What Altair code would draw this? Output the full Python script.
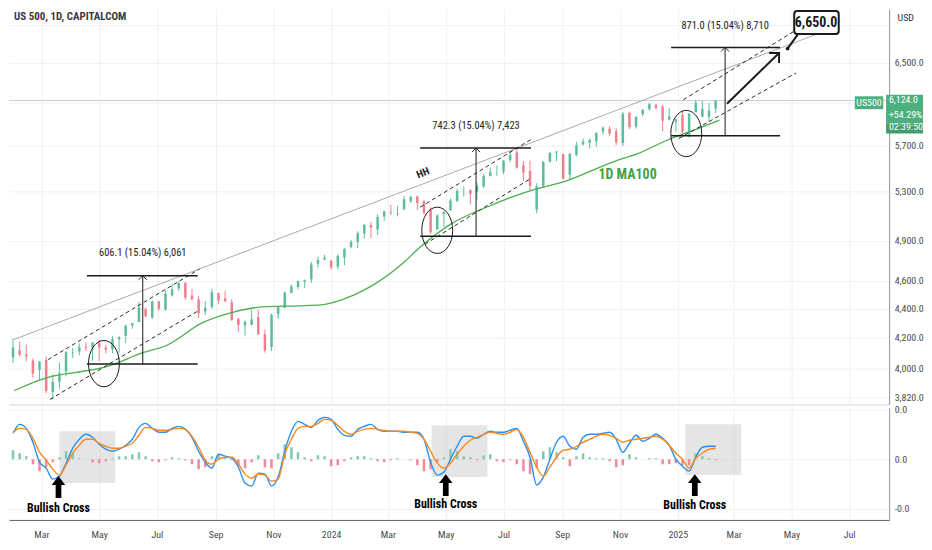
import altair as alt
import pandas as pd

FONT = "Liberation Sans Narrow, Roboto Condensed, DejaVu Sans Condensed, Liberation Sans, sans-serif"

# ---------------- weekly candles (US 500) ----------------
weeks = pd.date_range("2023-01-30", periods=107, freq="7D").strftime("%Y-%m-%d").tolist()

open_ = [4071, 4119, 4091, 4052, 3992, 4055, 3855, 3917, 3982, 4102, 4110, 4140, 4134, 4166, 4136, 4127,
         4191, 4215, 4283, 4308, 4396, 4337, 4450, 4394, 4492, 4543, 4585, 4492, 4464, 4380, 4411, 4510,
         4473, 4445, 4328, 4284, 4289, 4342, 4225, 4140, 4364, 4407, 4511, 4554, 4594, 4610, 4725, 4758,
         4745, 4703, 4772, 4853, 4892, 4957, 5026, 4989, 5093, 5131, 5111, 5154, 5219, 5257, 5218, 5149,
         4990, 5114, 5143, 5221, 5305, 5315, 5297, 5341, 5431, 5460, 5471, 5572, 5638, 5525, 5476, 5151,
         5349, 5557, 5637, 5623, 5442, 5615, 5711, 5727, 5737, 5829, 5857, 5833, 5724, 6003, 5875, 5992,
         6040, 6083, 6063, 5941, 5920, 5982, 5788, 6014, 5969, 5969, 6046]
high = [4195, 4176, 4156, 4066, 4049, 4078, 3964, 4039, 4110, 4133, 4164, 4170, 4170, 4186, 4154, 4212,
        4212, 4290, 4299, 4448, 4409, 4458, 4456, 4527, 4578, 4594, 4588, 4540, 4490, 4452, 4541, 4514,
        4527, 4467, 4338, 4317, 4394, 4393, 4256, 4366, 4416, 4520, 4569, 4600, 4609, 4738, 4778, 4793,
        4755, 4798, 4842, 4907, 4975, 5030, 5048, 5111, 5140, 5189, 5180, 5261, 5264, 5264, 5230, 5168,
        5114, 5139, 5240, 5325, 5342, 5315, 5375, 5447, 5505, 5524, 5570, 5655, 5669, 5563, 5566, 5370,
        5563, 5644, 5651, 5626, 5636, 5734, 5767, 5765, 5822, 5879, 5878, 5863, 6012, 6018, 5972, 6044,
        6099, 6090, 6085, 6049, 5951, 6022, 6002, 6128, 6120, 6101, 6128]
low = [4037, 4079, 4047, 3943, 3928, 3847, 3808, 3874, 3951, 4069, 4086, 4114, 4049, 4048, 4099, 4099,
       4103, 4166, 4261, 4308, 4341, 4328, 4385, 4385, 4486, 4527, 4463, 4461, 4335, 4356, 4400, 4431,
       4448, 4317, 4238, 4216, 4284, 4223, 4104, 4113, 4329, 4404, 4511, 4537, 4546, 4583, 4698, 4751,
       4682, 4682, 4714, 4842, 4845, 4918, 4920, 4946, 5057, 5104, 5094, 5141, 5203, 5146, 5108, 4953,
       4990, 5011, 5142, 5211, 5257, 5191, 5234, 5331, 5428, 5433, 5448, 5552, 5497, 5391, 5306, 5120,
       5334, 5555, 5560, 5402, 5406, 5604, 5703, 5674, 5689, 5801, 5787, 5703, 5697, 5853, 5856, 5973,
       6027, 6040, 5832, 5933, 5829, 5773, 5773, 6008, 5962, 5923, 6003]
close = [4136, 4090, 4079, 3970, 4045, 3861, 3917, 3971, 4109, 4105, 4138, 4133, 4169, 4136, 4124, 4192,
         4205, 4282, 4299, 4410, 4348, 4450, 4399, 4505, 4536, 4582, 4478, 4464, 4370, 4406, 4516, 4457,
         4450, 4320, 4288, 4309, 4327, 4224, 4117, 4358, 4415, 4514, 4559, 4595, 4604, 4719, 4754, 4770,
         4697, 4784, 4840, 4891, 4959, 5027, 5006, 5089, 5137, 5124, 5117, 5234, 5254, 5204, 5123, 4967,
         5100, 5128, 5223, 5303, 5305, 5278, 5347, 5432, 5465, 5460, 5567, 5615, 5505, 5459, 5347, 5344,
         5554, 5634, 5648, 5408, 5626, 5703, 5738, 5751, 5815, 5865, 5808, 5729, 5996, 5871, 5969, 6032,
         6090, 6051, 5931, 5971, 5942, 5827, 5997, 6101, 6041, 6026, 6124]

# 1D MA100 (read at sparse dates)
ma_dates = ["2023-01-31", "2023-03-08", "2023-04-05", "2023-05-06", "2023-06-17", "2023-07-11",
            "2023-08-18", "2023-09-21", "2023-10-20", "2023-11-28", "2023-12-21", "2024-01-12",
            "2024-02-11", "2024-03-17", "2024-04-04", "2024-05-08", "2024-06-13", "2024-07-24",
            "2024-09-07", "2024-10-29", "2024-11-19", "2024-12-20", "2025-01-23", "2025-02-14"]
ma_values = [3862, 3945, 3975, 4008, 4104, 4150, 4303, 4378, 4412, 4420, 4426, 4462,
             4555, 4731, 4852, 5040, 5169, 5293, 5395, 5569, 5626, 5747, 5859, 5935]

# MACD panel (weekly readings, panel units)
macd_line = [26, 35, 31, 17, -3, -9, -20, -17, -4, 11, 20, 25, 22, 15, 10, 8, 10, 14, 20, 32,
             36, 31, 27, 27, 31, 33, 30, 22, 8, -3, -9, 5, 3, 1, -8, -24, -27, -14, -15, -27,
             -18, 8, 28, 38, 35, 32, 39, 42, 40, 30, 24, 23, 30, 33, 35, 30, 28, 28, 28, 27,
             27, 27, 20, -3, -16, -13, 0, 13, 23, 23, 21, 25, 28, 27, 27, 29, 31, 18, 2, -26,
             -18, 0, 17, 23, 13, 10, 22, 25, 25, 26, 27, 20, 7, 16, 24, 18, 21, 25, 21, 14,
             0, -7, -12, 2, 12, 13, 13]
signal_line = [27, 31, 30, 21, 7, -1, -10, -16, -6, 6, 14, 20, 20, 16, 13, 11, 11, 13, 16, 24,
               32, 31, 29, 29, 30, 31, 30, 23, 12, -1, -5, 0, 2, 2, -5, -15, -19, -15, -16, -22,
               -20, 5, 20, 31, 33, 33, 36, 40, 39, 34, 28, 25, 28, 30, 31, 30, 29, 28, 28, 28,
               27, 26, 20, 8, -4, -9, -4, 5, 13, 19, 22, 25, 27, 26, 25, 27, 30, 22, 7, -8,
               -17, -8, 2, 9, 10, 13, 17, 20, 23, 25, 24, 21, 17, 19, 20, 21, 22, 23, 20, 14,
               6, 0, -9, 1, 6, 10, 11]
histogram = [9, 6, 3, -5, -12, -8, -3, 2, 8, 6, 1, 0, -3, -4, -2, 1, 3, 3, 5, 7,
             3, -2, -3, -1, 2, 1, -1, -5, -10, -8, 3, 5, 1, -1, -6, -9, -3, 4, -8, -9,
             6, 15, 12, 7, 2, -2, 4, 3, -7, -6, -2, 2, 3, 3, 1, -2, -3, -1, 1, 0,
             -1, -6, -12, -10, -3, 2, 10, 8, 3, 2, -1, 4, 5, -2, -3, -1, -5, -12, -15, -9,
             8, 12, 7, 2, -7, 3, 6, 2, 1, 1, -2, -8, -6, 5, 2, 0, 1, 1, -5, -5,
             -4, -6, -6, 6, 3, 1, -1]

# axis ticks
month_ticks = [(2023, 3), (2023, 5), (2023, 7), (2023, 9), (2023, 11), (2024, 1), (2024, 3), (2024, 5),
               (2024, 7), (2024, 9), (2024, 11), (2025, 1), (2025, 3), (2025, 5), (2025, 7)]
price_ticks = [3820, 4000, 4200, 4400, 4600, 4900, 5300, 5700, 6100, 6500, 6900]
macd_ticks = [-50, 0, 50]

# drawings on the price pane
trend_dates = ["2023-01-31", "2025-05-28"]
trend_prices = [4190, 6805]
chan_id = ["a", "a", "b", "b", "c", "c", "d", "d", "e", "e", "f", "f"]
chan_dates = ["2023-03-08", "2023-08-15", "2023-03-10", "2023-08-15",
              "2024-04-04", "2024-07-30", "2024-04-09", "2024-07-30",
              "2025-01-07", "2025-05-04", "2025-01-02", "2025-05-06"]
chan_prices = [4058, 4686, 3809, 4391, 5169, 5756, 4874, 5412, 6131, 6837, 5765, 6398]
meas_x1 = ["2023-04-18", "2024-04-04", "2024-12-25"]
meas_x2 = ["2023-08-13", "2024-07-30", "2025-04-19"]
meas_mid = ["2023-06-16", "2024-06-02", "2025-02-20"]
meas_bottom = [4030, 4935.5, 5791]
meas_top = [4636, 5678, 6662]
meas_label = ["606.1 (15.04%) 6,061", "742.3 (15.04%) 7,423", "871.0 (15.04%) 8,710"]
meas_label_price = [4806, 5884, 6891]
circle_dates = ["2023-05-06", "2024-04-22", "2025-01-10"]
circle_prices = [4032, 4983, 5811]
arrow_dates = ["2025-02-22", "2025-04-18"]
arrow_prices = [6092, 6604]
target_text = "6,650.0"
target_price = 6650
target_date = "2025-04-27"
box_dates = ["2025-05-04", "2025-06-20"]
box_prices = [6805, 7058]
box_text_date = "2025-05-27"
box_text_price = 6924
pointer_dates = ["2025-05-08", "2025-04-27"]
pointer_prices = [6805, 6650]
last_price = 6124

# MACD pane drawings
zone_x1 = ["2023-03-20", "2024-04-16", "2025-01-09"]
zone_x2 = ["2023-05-18", "2024-06-14", "2025-03-09"]
zone_top = [28, 34, 35]
zone_bottom = [-24, -18, -16]
cross_dates = ["2023-03-19", "2024-05-01", "2025-01-19"]
cross_arrow_y = [-28, -26, -26]
cross_text_y = [-49, -45, -46]

# ---------------- scales / axes ----------------
GRID = "#eef0f4"
LABEL = "#4a4a4a"
xscale = alt.Scale(type="utc", domain=[alt.DateTime(year=2023, month=1, date=31, utc=True),
                                       alt.DateTime(year=2025, month=8, date=7, utc=True)])
tick_dt = [alt.DateTime(year=y, month=m, date=1, utc=True) for y, m in month_ticks]

price_xaxis = alt.Axis(values=tick_dt, labels=False, ticks=False, grid=True, gridColor=GRID,
                       domainColor="#d1d4dc", title=None)
pyscale = alt.Scale(type="log", domain=[3779, 7080], nice=False)
price_yaxis = alt.Axis(orient="right", values=price_ticks,
                       labelExpr="(datum.value == 6100 || datum.value == 6900) ? '' : format(datum.value, ',.1f')",
                       grid=True, gridColor=GRID, ticks=False, domainColor="#8f929b",
                       labelColor=LABEL, labelFontSize=10, labelPadding=5, labelOverlap=False,
                       title="USD", titleAngle=0, titleX=8, titleY=8, titleAlign="left",
                       titleBaseline="middle", titleFontWeight="normal", titleFontSize=10,
                       titleColor="#333333")


def PX(f):
    return alt.X(f, type="temporal", scale=xscale, axis=price_xaxis)


def PY(f):
    return alt.Y(f, type="quantitative", scale=pyscale, axis=price_yaxis)


macd_xaxis = alt.Axis(values=tick_dt, ticks=False, grid=True, gridColor=GRID, domainColor="#5d606b",
                      labelExpr="utcFormat(datum.value, '%m') == '01' ? utcFormat(datum.value, '%Y') : utcFormat(datum.value, '%b')",
                      labelColor=LABEL, labelFontSize=10, labelPadding=10, title=None)
myscale = alt.Scale(domain=[-61, 52], nice=False, zero=False)
macd_yaxis = alt.Axis(orient="right", values=macd_ticks,
                      labelExpr="datum.value < 0 ? '-0.0' : '0.0'", grid=True, gridColor=GRID,
                      ticks=False, domainColor="#8f929b", labelColor=LABEL, labelFontSize=10,
                      labelPadding=5, title=None)


def MX(f):
    return alt.X(f, type="temporal", scale=xscale, axis=macd_xaxis)


def MY(f):
    return alt.Y(f, type="quantitative", scale=myscale, axis=macd_yaxis)


# ---------------- data frames ----------------
candles = pd.DataFrame({"date": weeks, "open": open_, "high": high, "low": low, "close": close})
candles["dir"] = ["up" if c >= o else "down" for o, c in zip(open_, close)]
cscale = alt.Scale(domain=["up", "down"], range=["#5dbb9f", "#ee7f8c"])

ma_df = pd.DataFrame({"date": ma_dates, "price": ma_values})
trend_df = pd.DataFrame({"date": trend_dates, "price": trend_prices})
chan_df = pd.DataFrame({"id": chan_id, "date": chan_dates, "price": chan_prices})
meas_df = pd.DataFrame({"x1": meas_x1, "x2": meas_x2, "mid": meas_mid, "bottom": meas_bottom,
                        "top": meas_top, "label": meas_label, "lp": meas_label_price})
circ_df = pd.DataFrame({"date": circle_dates, "price": circle_prices})
arrow_df = pd.DataFrame({"date": arrow_dates, "price": arrow_prices})
head_df = pd.DataFrame({"date": [arrow_dates[-1]], "price": [arrow_prices[-1]]})
box_df = pd.DataFrame({"x1": [box_dates[0]], "x2": [box_dates[1]], "p1": [box_prices[0]], "p2": [box_prices[1]]})
boxtext_df = pd.DataFrame({"date": [box_text_date], "price": [box_text_price], "t": [target_text]})
pointer_df = pd.DataFrame({"date": pointer_dates, "price": pointer_prices})
dot_df = pd.DataFrame({"date": [target_date], "price": [target_price]})
lastp_df = pd.DataFrame({"price": [last_price]})
title_df = pd.DataFrame({"date": ["2023-01-31"], "price": [6990], "t": ["US 500, 1D, CAPITALCOM"]})
hh_df = pd.DataFrame({"date": ["2024-04-07"], "price": [5455], "t": ["HH"]})
ma_lbl_df = pd.DataFrame({"date": ["2024-11-09"], "price": [5438], "t": ["1D MA100"]})
sym_df = pd.DataFrame({"x1": ["2025-07-07"], "x2": ["2025-08-06"], "p1": [6040], "p2": [6165],
                       "tx": ["2025-07-22"], "tp": [6100], "t": ["US500"]})
pbox_df = pd.DataFrame({"x1": ["2025-08-09", "2025-08-09"], "x2": ["2025-09-17", "2025-09-17"],
                        "p1": [5905, 5811], "p2": [6179, 5905], "c": ["a", "b"]})
ptext_df = pd.DataFrame({"date": ["2025-08-12"] * 3, "price": [6124, 5987, 5874],
                         "t": ["6,124.0", "+54.29%", "02:39:50"]})

CHEV = "M-1,1L0,0L1,1"
ELLIPSE = ("M0,-1.5C0.552,-1.5,1,-0.828,1,0C1,0.828,0.552,1.5,0,1.5"
           "C-0.552,1.5,-1,0.828,-1,0C-1,-0.828,-0.552,-1.5,0,-1.5Z")
UPARROW = "M0,-1L0.62,-0.2L0.26,-0.2L0.26,1L-0.26,1L-0.26,-0.2L-0.62,-0.2Z"
INK = "#1a1a1a"

# ---------------- price pane ----------------
lastline = alt.Chart(lastp_df).mark_rule(color="#c9d0da", strokeWidth=1).encode(y=PY("price"))
wicks = alt.Chart(candles).mark_rule(strokeWidth=1, clip=True).encode(
    x=PX("date"), y=PY("low"), y2="high:Q", color=alt.Color("dir:N", scale=cscale, legend=None))
bodies = alt.Chart(candles).mark_bar(size=2.5, clip=True).encode(
    x=PX("date"), y=PY("open"), y2="close:Q", color=alt.Color("dir:N", scale=cscale, legend=None))
ma = alt.Chart(ma_df).mark_line(color="#4caf50", strokeWidth=1.3, interpolate="monotone", clip=True).encode(
    x=PX("date"), y=PY("price"))
trend = alt.Chart(trend_df).mark_line(color="#a0a0a0", strokeWidth=0.9).encode(x=PX("date"), y=PY("price"))
chans = alt.Chart(chan_df).mark_line(color="#2a2a2a", strokeWidth=1, strokeDash=[4, 3]).encode(
    x=PX("date"), y=PY("price"), detail="id:N")
m_top = alt.Chart(meas_df).mark_rule(color=INK, strokeWidth=1.5).encode(x=PX("x1"), x2="x2:T", y=PY("top"))
m_bot = alt.Chart(meas_df).mark_rule(color=INK, strokeWidth=1.5).encode(x=PX("x1"), x2="x2:T", y=PY("bottom"))
m_vert = alt.Chart(meas_df).mark_rule(color=INK, strokeWidth=1).encode(x=PX("mid"), y=PY("bottom"), y2="top:Q")
m_head = alt.Chart(meas_df).mark_point(shape=CHEV, filled=False, color=INK, strokeWidth=1, size=64, opacity=1).encode(
    x=PX("mid"), y=PY("top"))
m_text = alt.Chart(meas_df).mark_text(font=FONT, fontSize=10.5, color="#222222").encode(
    x=PX("mid"), y=PY("lp"), text="label:N")
circles = alt.Chart(circ_df).mark_point(shape=ELLIPSE, filled=False, color=INK, strokeWidth=1, size=961, opacity=1).encode(
    x=PX("date"), y=PY("price"))
big_arrow = alt.Chart(arrow_df).mark_line(color=INK, strokeWidth=2).encode(x=PX("date"), y=PY("price"))
big_head = alt.Chart(head_df).mark_point(shape=CHEV, filled=False, color=INK, strokeWidth=2, size=200, angle=45, opacity=1).encode(
    x=PX("date"), y=PY("price"))
pointer = alt.Chart(pointer_df).mark_line(color=INK, strokeWidth=2).encode(x=PX("date"), y=PY("price"))
dot = alt.Chart(dot_df).mark_point(filled=True, color=INK, size=14, opacity=1).encode(x=PX("date"), y=PY("price"))
box = alt.Chart(box_df).mark_rect(fill="white", stroke=INK, strokeWidth=2, cornerRadius=3).encode(
    x=PX("x1"), x2="x2:T", y=PY("p1"), y2="p2:Q")
box_text = alt.Chart(boxtext_df).mark_text(font=FONT, fontSize=14, fontWeight="bold", color=INK).encode(
    x=PX("date"), y=PY("price"), text="t:N")
title = alt.Chart(title_df).mark_text(font=FONT, fontSize=11, fontWeight="bold", color="#3a3a3a", align="left").encode(
    x=PX("date"), y=PY("price"), text="t:N")
hh = alt.Chart(hh_df).mark_text(font=FONT, fontSize=10.5, fontWeight="bold", color="#222222", angle=338).encode(
    x=PX("date"), y=PY("price"), text="t:N")
ma_lbl = alt.Chart(ma_lbl_df).mark_text(font=FONT, fontSize=14, fontWeight="bold", color="#43a047").encode(
    x=PX("date"), y=PY("price"), text="t:N")
sym_box = alt.Chart(sym_df).mark_rect(color="#4caf7d").encode(x=PX("x1"), x2="x2:T", y=PY("p1"), y2="p2:Q")
sym_text = alt.Chart(sym_df).mark_text(font=FONT, fontSize=10, color="white").encode(
    x=PX("tx"), y=PY("tp"), text="t:N")
pbox = alt.Chart(pbox_df).mark_rect().encode(
    x=PX("x1"), x2="x2:T", y=PY("p1"), y2="p2:Q",
    color=alt.Color("c:N", scale=alt.Scale(domain=["a", "b"], range=["#4caf7d", "#3f9e6e"]), legend=None))
ptext = alt.Chart(ptext_df).mark_text(font=FONT, fontSize=10, color="white", align="left").encode(
    x=PX("date"), y=PY("price"), text="t:N")

price = alt.layer(
    lastline, wicks, bodies, ma, trend, chans, m_top, m_bot, m_vert, m_head, m_text, circles,
    big_arrow, big_head, pointer, dot, box, box_text, title, hh, ma_lbl, sym_box, sym_text, pbox, ptext
).resolve_scale(color="independent").properties(width=884, height=397)

# ---------------- MACD pane ----------------
macd_df = pd.DataFrame({"date": weeks, "macd": macd_line, "signal": signal_line, "hist": histogram})
macd_df["zero"] = 0
macd_df["sign"] = ["pos" if h >= 0 else "neg" for h in histogram]
zone_df = pd.DataFrame({"x1": zone_x1, "x2": zone_x2, "top": zone_top, "bottom": zone_bottom})
cross_df = pd.DataFrame({"date": cross_dates, "ay": cross_arrow_y, "ty": cross_text_y,
                         "t": ["Bullish Cross"] * 3})

zones = alt.Chart(zone_df).mark_rect(color="#d4d4d4", opacity=0.6).encode(x=MX("x1"), x2="x2:T", y=MY("top"), y2="bottom:Q")
hist = alt.Chart(macd_df).mark_bar(size=2.5, clip=True).encode(
    x=MX("date"), y=MY("hist"), y2="zero:Q",
    color=alt.Color("sign:N", scale=alt.Scale(domain=["pos", "neg"], range=["#7fc8b2", "#f08a9a"]), legend=None))
blue = alt.Chart(macd_df).mark_line(color="#2a8ff0", strokeWidth=1.4, interpolate="monotone", clip=True).encode(
    x=MX("date"), y=MY("macd"))
orange = alt.Chart(macd_df).mark_line(color="#f5891f", strokeWidth=1.4, interpolate="monotone", clip=True).encode(
    x=MX("date"), y=MY("signal"))
c_arrow = alt.Chart(cross_df).mark_point(shape=UPARROW, filled=True, color="black", size=484, opacity=1).encode(
    x=MX("date"), y=MY("ay"))
c_text = alt.Chart(cross_df).mark_text(font=FONT, fontSize=12, fontWeight="bold", color="black").encode(
    x=MX("date"), y=MY("ty"), text="t:N")

macd = alt.layer(zones, hist, blue, orange, c_arrow, c_text).properties(width=884, height=113)

chart = alt.vconcat(price, macd, spacing=0).resolve_scale(
    x="independent", y="independent", color="independent"
).properties(padding=0).configure_view(stroke=None).configure_axis(
    labelFont=FONT, titleFont=FONT
)

chart.save("out.html", embed_options={"renderer": "svg", "actions": False})
